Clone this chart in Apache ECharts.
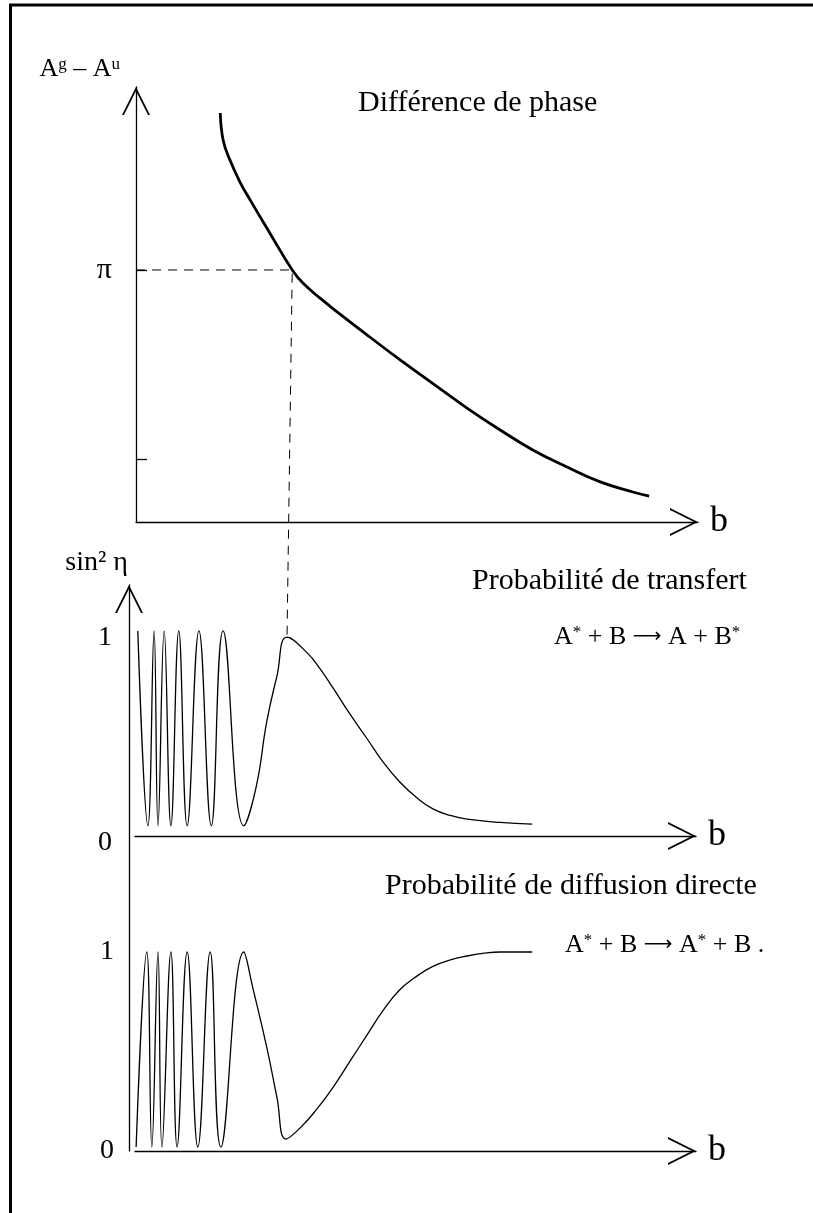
<!DOCTYPE html>
<html>
<head>
<meta charset="utf-8">
<style>
html, body { margin: 0; padding: 0; background: #fff; }
#main { width: 813px; height: 1213px; }
</style>
<script src="https://cdn.jsdelivr.net/npm/echarts@6/dist/echarts.min.js"></script>
</head>
<body>
<div id="main"></div>
<script>
// b en unités arbitraires (0..10 le long de chaque axe)
// différence de phase, en unités de pi
var phaseB = [1.50, 1.55, 1.67, 1.85, 2.03, 2.38, 2.78, 2.97, 3.27, 3.63, 4.16, 4.70, 5.29, 5.89, 6.48, 7.06, 7.67, 8.26, 8.84, 9.13];
var phaseY = [1.623, 1.516, 1.437, 1.349, 1.278, 1.147, 1.000, 0.948, 0.889, 0.825, 0.734, 0.643, 0.548, 0.452, 0.365, 0.286, 0.218, 0.159, 0.119, 0.103];

// probabilité de transfert
var transB = [0.05, 0.23, 0.34, 0.41, 0.52, 0.64, 0.78, 0.93, 1.14, 1.36, 1.57, 1.94, 2.16, 2.35, 2.53, 2.71, 3.07, 3.30, 3.53, 3.83, 4.14, 4.42, 4.72, 5.03, 5.31, 5.62, 5.92, 6.51, 7.08];
var transY = [1.00, 0.05, 1.00, 0.05, 1.00, 0.05, 1.00, 0.05, 1.00, 0.05, 1.00, 0.05, 0.24, 0.56, 0.78, 0.97, 0.893, 0.815, 0.722, 0.595, 0.473, 0.361, 0.263, 0.185, 0.132, 0.100, 0.082, 0.066, 0.058];

// probabilité de diffusion directe
var diffB = [0.02, 0.21, 0.30, 0.41, 0.48, 0.64, 0.75, 0.93, 1.12, 1.34, 1.53, 1.94, 2.10, 2.35, 2.53, 2.69, 2.94, 3.24, 3.53, 3.83, 4.14, 4.42, 4.72, 5.03, 5.31, 5.62, 5.92, 6.20, 6.51, 7.08];
var diffY = [0.02, 1.00, 0.02, 1.00, 0.02, 1.00, 0.02, 1.00, 0.02, 1.00, 0.02, 1.00, 0.82, 0.52, 0.27, 0.06, 0.115, 0.21, 0.32, 0.45, 0.585, 0.705, 0.81, 0.88, 0.928, 0.96, 0.98, 0.993, 1.00, 1.00];

var phaseTicks = [0.25, 1];
var phaseLabels = [1];
var probLabels = [0, 1];

var FONT = '"Liberation Serif", "Times New Roman", serif';
var chevron = 'path://M0,20 L10,0 L20,20 L18.6,20 L10,2.8 L1.4,20 Z';

function pairs(xs, ys) {
    var out = [];
    for (var i = 0; i < xs.length; i++) out.push([xs[i], ys[i]]);
    return out;
}

function axisLine(arrow) {
    return {
        show: true,
        onZero: false,
        symbol: arrow ? ['none', chevron] : ['none', 'none'],
        symbolSize: [28, 28],
        symbolOffset: [0, -14],
        lineStyle: { color: '#000', width: 1.3 }
    };
}

function xAxisFor(i) {
    return {
        type: 'value',
        gridIndex: i,
        min: 0,
        max: 10,
        axisLine: axisLine(true),
        axisTick: { show: false },
        axisLabel: { show: false },
        splitLine: { show: false },
        name: 'b',
        nameLocation: 'end',
        nameGap: 12,
        nameTextStyle: { fontFamily: FONT, fontSize: 36, color: '#000' }
    };
}

var chartDom = document.getElementById('main');
var myChart = echarts.init(chartDom);
var option;

var titleStyle = { fontFamily: FONT, fontSize: 30, fontWeight: 'normal', color: '#000' };
var formulaStyle = {
    fontFamily: FONT, fontSize: 26, fontWeight: 'normal', color: '#000',
    rich: {
        s: { fontFamily: FONT, fontSize: 17, verticalAlign: 'top', color: '#000' },
        ar: { fontFamily: '"DejaVu Sans", sans-serif', fontSize: 20, color: '#000' }
    }
};

option = {
    backgroundColor: '#fff',
    animation: false,
    graphic: [{
        type: 'rect',
        shape: { x: 10.5, y: 5, width: 900, height: 1300 },
        style: { fill: 'none', stroke: '#000', lineWidth: 3 }
    }],
    title: [
        { text: 'Différence de phase', left: 358, top: 88, padding: 0, textStyle: titleStyle },
        { text: 'Probabilité de transfert', left: 472, top: 566, padding: 0, textStyle: titleStyle },
        { text: 'A{s|*} + B {ar|⟶} A + B{s|*}', left: 554, top: 624, padding: 0, textStyle: formulaStyle },
        { text: 'Probabilité de diffusion directe', left: 385, top: 871, padding: 0, textStyle: titleStyle },
        { text: 'A{s|*} + B {ar|⟶} A{s|*} + B .', left: 565, top: 932, padding: 0, textStyle: formulaStyle }
    ],
    grid: [
        { left: 136, top: 87, width: 562, height: 435 },
        { left: 135, top: 585, width: 561, height: 251 },
        { left: 135, top: 836, width: 561, height: 315 }
    ],
    xAxis: [xAxisFor(0), xAxisFor(1), xAxisFor(2)],
    yAxis: [
        {
            type: 'value',
            gridIndex: 0,
            min: 0,
            max: 1.726,
            axisLine: axisLine(true),
            axisTick: {
                show: true, inside: true, length: 11, customValues: phaseTicks,
                lineStyle: { color: '#000', width: 1.3 }
            },
            axisLabel: {
                show: true, customValues: phaseLabels, margin: 24,
                formatter: function () { return 'π'; },
                fontFamily: FONT, fontSize: 30, color: '#000'
            },
            splitLine: { show: false },
            name: 'A{s|g} – A{s|u}',
            nameLocation: 'end',
            nameGap: 5,
            nameTextStyle: {
                fontFamily: FONT, fontSize: 26, color: '#000', align: 'right',
                padding: [0, 16, 0, 0],
                rich: { s: { fontFamily: FONT, fontSize: 17, verticalAlign: 'top', color: '#000' } }
            }
        },
        {
            type: 'value',
            gridIndex: 1,
            min: 0,
            max: 1.224,
            offset: 6,
            axisLine: axisLine(true),
            axisTick: { show: false },
            axisLabel: {
                show: true, customValues: probLabels, margin: 17,
                formatter: function (v) { return '{v|' + v + '}'; },
                rich: { v: { fontFamily: FONT, fontSize: 28, color: '#000', padding: [14, 0, 0, 0] } },
                fontFamily: FONT, fontSize: 28, color: '#000'
            },
            splitLine: { show: false },
            name: 'sin² η',
            nameLocation: 'end',
            nameGap: 8,
            nameTextStyle: {
                fontFamily: FONT, fontSize: 28, color: '#000', align: 'right',
                padding: [0, 1, 0, 0]
            }
        },
        {
            type: 'value',
            gridIndex: 2,
            min: 0,
            max: 1.583,
            offset: 6,
            axisLine: axisLine(false),
            axisTick: { show: false },
            axisLabel: {
                show: true, customValues: probLabels, margin: 15,
                fontFamily: FONT, fontSize: 28, color: '#000'
            },
            splitLine: { show: false }
        }
    ],
    series: [
        {
            name: 'phase',
            type: 'line',
            xAxisIndex: 0,
            yAxisIndex: 0,
            symbol: 'none',
            smooth: 0.45,
            lineStyle: { color: '#000', width: 2.8 },
            data: pairs(phaseB, phaseY)
        },
        {
            name: 'transfert',
            type: 'line',
            xAxisIndex: 1,
            yAxisIndex: 1,
            symbol: 'none',
            smooth: 0.45,
            lineStyle: { color: '#000', width: 1.3 },
            data: pairs(transB, transY)
        },
        {
            name: 'diffusion',
            type: 'line',
            xAxisIndex: 2,
            yAxisIndex: 2,
            symbol: 'none',
            smooth: 0.45,
            lineStyle: { color: '#000', width: 1.3 },
            data: pairs(diffB, diffY)
        }
    ]
};
option && myChart.setOption(option);

// ligne de rappel : de pi sur la courbe de phase jusqu'au maximum de la probabilité de transfert
var piIdx = phaseY.indexOf(1.0);
var peakIdx = -1;
for (var i = 0; i < transB.length; i++) {
    if (transB[i] > 2 && (peakIdx < 0 || transY[i] > transY[peakIdx])) peakIdx = i;
}
var peakPx = myChart.convertToPixel({ seriesIndex: 1 }, [transB[peakIdx], transY[peakIdx]]);
var peakTop = myChart.convertFromPixel({ seriesIndex: 0 }, peakPx);

option.series.push({
    name: 'rappel',
    type: 'line',
    xAxisIndex: 0,
    yAxisIndex: 0,
    symbol: 'none',
    clip: false,
    silent: true,
    z: 1,
    lineStyle: { color: '#000', width: 1, type: [9, 7] },
    data: [[0, phaseY[piIdx]], [phaseB[piIdx], phaseY[piIdx]], [peakTop[0], peakTop[1]]]
});
myChart.setOption(option);

window.addEventListener('resize', function () {
    myChart.resize();
});
</script>
</body>
</html>
